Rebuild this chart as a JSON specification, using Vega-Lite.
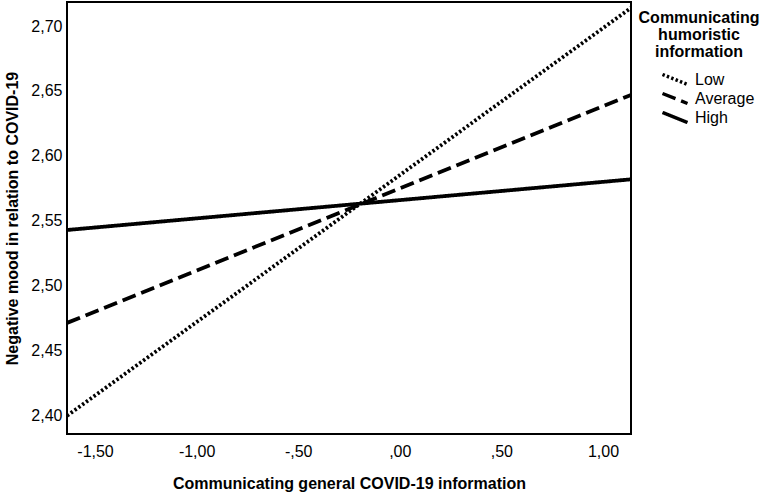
{
  "$schema": "https://vega.github.io/schema/vega-lite/v6.json",
  "width": 564,
  "height": 432,
  "autosize": "none",
  "padding": {"left": 67, "top": 2, "right": 131, "bottom": 60},
  "background": "white",
  "config": {
    "font": "Liberation Sans",
    "view": {"stroke": "black", "strokeWidth": 2},
    "axis": {"grid": false, "ticks": false, "domain": false, "labelFont": "Liberation Sans", "labelFontSize": 16, "labelColor": "black", "titleFont": "Liberation Sans", "titleFontSize": 16, "titleFontWeight": "bold", "titleColor": "black"}
  },
  "data": {
    "values": [
      {"x": -1.638, "y": 2.400, "level": "Low"},
      {"x": 1.138, "y": 2.714, "level": "Low"},
      {"x": -1.638, "y": 2.4715, "level": "Average"},
      {"x": 1.138, "y": 2.647, "level": "Average"},
      {"x": -1.638, "y": 2.543, "level": "High"},
      {"x": 1.138, "y": 2.582, "level": "High"}
    ]
  },
  "mark": {"type": "line", "color": "black", "strokeWidth": 3.8, "strokeCap": "butt", "clip": true},
  "encoding": {
    "x": {
      "field": "x", "type": "quantitative",
      "scale": {"domain": [-1.638, 1.138], "nice": false, "zero": false},
      "axis": {
        "values": [-1.5, -1, -0.5, 0, 0.5, 1],
        "labelExpr": "(datum.value < 0 ? '-' : '') + replace(replace(format(abs(datum.value), '.2f'), '0.', '.'), '.', ',')",
        "labelPadding": 9,
        "titlePadding": 16,
        "title": "Communicating general COVID-19 information"
      }
    },
    "y": {
      "field": "y", "type": "quantitative",
      "scale": {"domain": [2.386, 2.7185], "nice": false, "zero": false},
      "axis": {
        "values": [2.4, 2.45, 2.5, 2.55, 2.6, 2.65, 2.7],
        "labelExpr": "replace(format(datum.value, '.2f'), '.', ',')",
        "labelPadding": 5,
        "titlePadding": 10,
        "title": "Negative mood in relation to COVID-19"
      }
    },
    "strokeDash": {
      "field": "level", "type": "nominal",
      "scale": {"domain": ["Low", "Average", "High"], "range": [[2.4, 2.3], [14, 6], [1, 0]]},
      "legend": {
        "orient": "none",
        "legendX": 572,
        "legendY": 8,
        "title": ["Communicating", "humoristic", "information"],
        "titleFont": "Liberation Sans",
        "titleFontSize": 16,
        "titleFontWeight": "bold",
        "titleColor": "black",
        "titleLineHeight": 17,
        "titleAnchor": "middle",
        "titleAlign": "center",
        "titlePadding": 10,
        "labelFont": "Liberation Sans",
        "labelFontSize": 16,
        "labelColor": "black",
        "symbolType": "M-2.5,-1L2.5,1",
        "symbolSize": 100,
        "symbolStrokeWidth": 3.5,
        "symbolStrokeColor": "black",
        "symbolFillColor": "transparent",
        "symbolOffset": 24,
        "labelOffset": 12,
        "clipHeight": 19,
        "rowPadding": 0
      }
    }
  }
}
